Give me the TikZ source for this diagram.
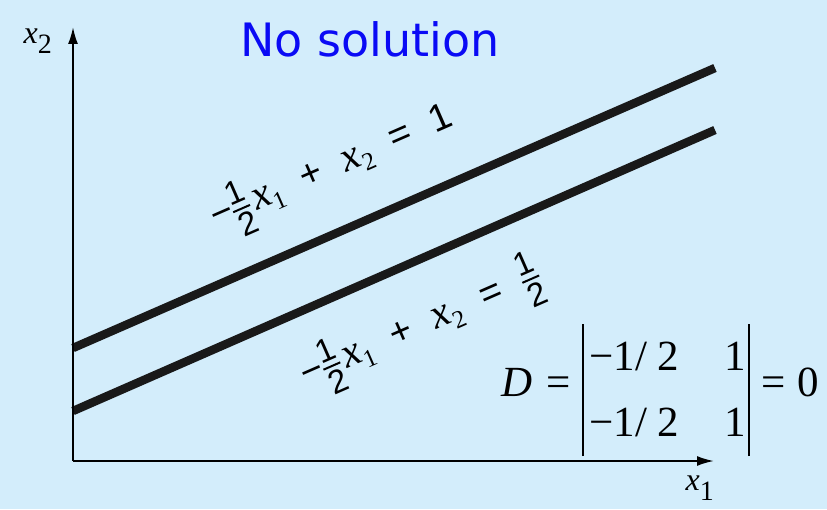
\documentclass[tikz,border=0pt]{standalone}
\usepackage{fontspec}
\setmainfont{Liberation Serif}
\setsansfont{Liberation Sans}
\newfontfamily\titlefont{DejaVu Sans}
\usetikzlibrary{arrows.meta, positioning}
\definecolor{SkyBg}{HTML}{D3EDFB}
\definecolor{TitleBlue}{HTML}{0A0AF5}
% sans digits/signs, italic variable with index, stacked one half
\newcommand{\sfd}[1]{{\sffamily\fontsize{38}{38}\selectfont #1}}
\newcommand{\xv}[1]{\textit{x}\raisebox{-8pt}{\fontsize{25}{25}\selectfont #1}}
\newcommand{\sfhalf}{{\sffamily\fontsize{33}{33}\selectfont
  \renewcommand{\arraystretch}{0.5}\setlength{\arrayrulewidth}{2pt}%
  \begin{tabular}{@{}c@{}}1\\\hline\rule{0pt}{27pt}2\end{tabular}}}
\newcommand{\gap}{\hspace{22pt}}

\begin{document}
\begin{tikzpicture}[x=1pt, y=1pt,
  axis/.style={line width=2pt, -{Latex[length=17pt, width=10pt]}},
  graph/.style={line width=8.5pt, color=black!90},
  eqlabel/.style={inner sep=0pt, font=\fontsize{42}{46}\selectfont, rotate=23.6},
  axlabel/.style={inner sep=0pt, font=\fontsize{32}{36}\selectfont},
  title/.style={inner sep=0pt, text=TitleBlue, font=\titlefont\fontsize{46}{52}\selectfont}
]
\useasboundingbox (0,0) rectangle (827,509);
\fill[SkyBg] (0,0) rectangle (827,509);

\coordinate (o)    at (73,48);
\coordinate (ytip) at (73,482);
\coordinate (xtip) at (714,48);
\coordinate (a1) at (73,161);
\coordinate (b1) at (715,441);
\coordinate (a2) at (73,98);
\coordinate (b2) at (715,379);

\draw[graph] (a1) -- (b1);
\draw[graph] (a2) -- (b2);
\draw[axis] (o) -- (ytip);
\draw[axis] (o) -- (xtip);

\node[axlabel] (lx2) at (38,468) {\textit{x}\textsubscript{\fontsize{28}{30}\selectfont 2}};
\node[axlabel] (lx1) at (700,21) {\textit{x}\textsubscript{\fontsize{28}{30}\selectfont 1}};
\node[title]   (ttl) at (370,470) {No solution};

\node[eqlabel] (eq1) at (333,338)
  {\sfd{−}\sfhalf\hspace{4pt}\xv{1}\gap\sfd{+}\gap\xv{2}\gap\sfd{=}\gap\sfd{1}};
\node[eqlabel] (eq2) at (422,180)
  {\sfd{−}\sfhalf\hspace{4pt}\xv{1}\gap\sfd{+}\gap\xv{2}\gap\sfd{=}\gap\sfhalf};

\node[inner sep=0pt, font=\fontsize{43}{48}\selectfont] (det) at (660,119)
  {\textit{D}\hspace{14pt}=\hspace{12pt}{\renewcommand{\arraystretch}{1.38}\setlength{\arrayrulewidth}{2pt}%
   \begin{tabular}{|@{\hspace{6pt}}l@{\hspace{45pt}}r@{\hspace{3pt}}|}−1/ 2 & 1\\ −1/ 2 & 1\end{tabular}}%
   \hspace{12pt}=\hspace{12pt}0};
\end{tikzpicture}
\end{document}
